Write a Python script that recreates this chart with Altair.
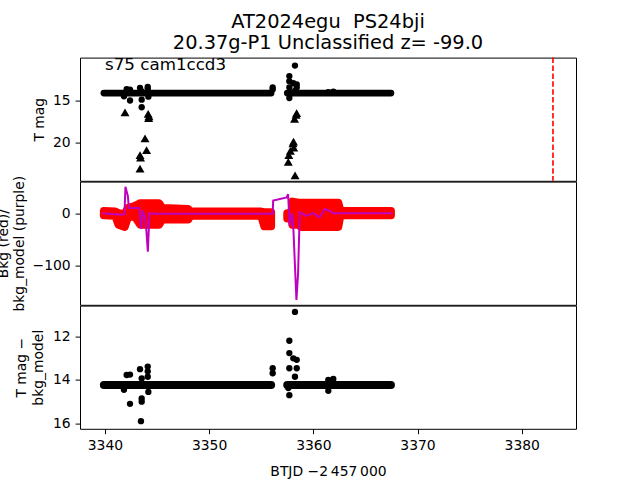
import altair as alt
import pandas as pd

# ---------------- data ----------------
# continuous stretches of detections (each stretch: first and last epoch)
seg_start = [3339.9, 3357.5]
seg_end = [3355.95, 3367.45]
top_seg_mag = [14.12, 14.12]
bot_seg_mag = [14.23, 14.23]

# scattered detections, top panel (T mag)
top_pt_t = [3341.83, 3342.09, 3342.41, 3342.41, 3343.37, 3343.5, 3343.53, 3343.53,
            3344.11, 3344.11, 3344.17, 3356.1, 3356.1, 3357.7, 3357.7, 3357.7, 3357.7,
            3358.08, 3358.24, 3358.24, 3358.41, 3358.41, 3361.44, 3361.92]
top_pt_mag = [14.5, 13.65, 13.7, 15.0, 13.5, 13.9, 14.9, 15.8,
              13.4, 13.6, 14.55, 13.45, 13.7, 12.1, 12.7, 13.45, 14.7,
              12.95, 10.85, 13.85, 13.1, 13.45, 14.0, 13.95]

# upper limits (triangles), top panel
lim_t = [3341.93, 3343.37, 3343.42, 3343.37, 3343.85, 3344.0, 3344.15, 3344.23, 3344.2,
         3357.6, 3357.65, 3357.8, 3358.05, 3358.1, 3358.12, 3358.2, 3358.35, 3358.4, 3358.25]
lim_mag = [16.4, 21.5, 21.8, 23.1, 19.5, 20.9, 16.6, 16.9, 17.1,
           22.3, 21.5, 21.0, 20.1, 19.9, 20.6, 17.2, 16.7, 16.5, 23.9]

# background flux (red): envelope of the points per orbit
bkg_t = [3339.9, 3341.0, 3341.3, 3341.9, 3342.2, 3342.6, 3343.0, 3343.4, 3344.0, 3345.2,
         3345.5, 3348.0, 3348.2, 3355.0, 3355.3, 3355.95,
         3357.5, 3357.9, 3358.0, 3358.6, 3358.8, 3362.4, 3362.6, 3367.45]
bkg_lo = [-4, -5, -22, -26, -8, -5, -10, -22, -22, -22,
          -12, -12, -5, -5, -25, -25,
          -10, -10, -22, -22, -26, -26, -4, -4]
bkg_hi = [4, 3, 0, -2, 10, 12, 15, 19, 19, 19,
          10, 8, 3, 3, 2, 2,
          0, 0, 22, 20, 20, 20, 4, 4]
bkg_orbit = ["1"] * 16 + ["2"] * 8

# background model (purple)
mod_t = [3339.76, 3341.68, 3341.88, 3341.97, 3342.2, 3342.3, 3343.3, 3343.48, 3343.63,
         3343.9, 3344.12, 3344.28, 3344.6, 3356.1, 3356.15, 3357.45, 3357.58, 3357.74,
         3357.96, 3358.06, 3358.38, 3358.54, 3358.7, 3359.35, 3359.98, 3360.6, 3361.1,
         3361.6, 3361.9, 3367.6]
mod_v = [0, -3, -2, 50, 33, 10, 10, -30, 5,
         -10, -73, 0, -1, -1, 24, 30, 36, -24,
         0, -17, -165, -114, 2, -5, 0, -8, 8,
         4, 0, 0]

# scattered points, bottom panel (T mag - bkg_model)
bot_pt_t = [3342.09, 3342.41, 3341.83, 3342.41, 3343.37, 3343.53, 3343.53, 3343.53, 3343.46,
            3344.11, 3344.11, 3344.11, 3344.17, 3356.1, 3356.1, 3357.7, 3357.7, 3357.7,
            3357.7, 3358.24, 3358.08, 3358.41, 3358.41, 3358.24, 3357.6, 3361.44, 3361.44,
            3361.92]
bot_pt_mag = [13.77, 13.75, 14.45, 15.1, 13.5, 13.93, 14.85, 15.0, 15.9,
              13.38, 13.6, 13.85, 14.55, 13.46, 13.69, 12.19, 12.76, 13.46,
              14.7, 10.86, 13.0, 13.07, 13.46, 13.85, 14.37, 14.0, 14.5,
              13.95]

discovery_t = [3383.0]
panel_label = ["s75 cam1ccd3"]

# ---------------- chart ----------------
FONT = "DejaVu Sans"
W, H = 496, 123.2
xs = alt.Scale(domain=[3337.61, 3385.21], nice=False, zero=False)
top_ys = alt.Scale(domain=[9.9, 24.55], nice=False, zero=False, reverse=True)
mid_ys = alt.Scale(domain=[-174, 60], nice=False, zero=False)
bot_ys = alt.Scale(domain=[10.57, 16.25], nice=False, zero=False, reverse=True)


def yaxis(values, title, tx):
    return alt.Axis(values=values, title=title, titleX=tx, titleY=H / 2,
                    titleAngle=270, titleAlign="center", titleBaseline="alphabetic",
                    titleLineHeight=16.7, format="d")


top_axis = yaxis([15, 20], "T mag", -36.7)
mid_axis = yaxis([0, -100], ["Bkg (red)/", "bkg_model (purple)"], -72.9)
bot_axis = yaxis([12, 14, 16], ["T mag \u2212", "bkg_model"], -54.5)

seg_top = pd.DataFrame({"t0": seg_start, "t1": seg_end, "mag": top_seg_mag})
seg_bot = pd.DataFrame({"t0": seg_start, "t1": seg_end, "mag": bot_seg_mag})
top_pts = pd.DataFrame({"t": top_pt_t, "mag": top_pt_mag})
lims = pd.DataFrame({"t": lim_t, "mag": lim_mag})
bkg = pd.DataFrame({"t": bkg_t, "lo": bkg_lo, "hi": bkg_hi, "orbit": bkg_orbit})
mod = pd.DataFrame({"t": mod_t, "v": mod_v})
bot_pts = pd.DataFrame({"t": bot_pt_t, "mag": bot_pt_mag})
disc = pd.DataFrame({"t": discovery_t})
lab = pd.DataFrame({"label": panel_label})

xnone = dict(scale=xs, axis=None)

top = alt.layer(
    alt.Chart(seg_top).mark_rule(color="black", strokeWidth=6.7, strokeCap="round").encode(
        x=alt.X("t0:Q", **xnone), x2="t1:Q",
        y=alt.Y("mag:Q", scale=top_ys, axis=top_axis)),
    alt.Chart(top_pts).mark_circle(color="black", size=40, opacity=1).encode(
        x=alt.X("t:Q", **xnone), y=alt.Y("mag:Q", scale=top_ys, axis=top_axis)),
    alt.Chart(lims).mark_point(shape="triangle-up", filled=True, color="black", size=80,
                               opacity=1).encode(
        x=alt.X("t:Q", **xnone), y=alt.Y("mag:Q", scale=top_ys, axis=top_axis)),
    alt.Chart(disc).mark_rule(color="red", strokeWidth=1.6, strokeDash=[5.5, 2.4]).encode(
        x=alt.X("t:Q", **xnone)),
    alt.Chart(lab).mark_text(align="left", baseline="alphabetic", fontSize=16.7,
                             font=FONT, color="black").encode(
        x=alt.value(25), y=alt.value(12.4), text="label:N"),
).properties(width=W, height=H)

mid = alt.layer(
    alt.Chart(bkg).mark_area(color="red", stroke="red", strokeWidth=8, strokeJoin="round",
                             opacity=1).encode(
        x=alt.X("t:Q", **xnone), y=alt.Y("lo:Q", scale=mid_ys, axis=mid_axis), y2="hi:Q",
        detail="orbit:N"),
    alt.Chart(mod).mark_line(color="#bf00bf", strokeWidth=2).encode(
        x=alt.X("t:Q", **xnone), y=alt.Y("v:Q", scale=mid_ys, axis=mid_axis)),
).properties(width=W, height=H)

xaxis = alt.Axis(values=[3340, 3350, 3360, 3370, 3380], format="d",
                 title="BTJD \u22122\u2009457\u2009000", titleY=46.3,
                 titleBaseline="alphabetic")

bot = alt.layer(
    alt.Chart(seg_bot).mark_rule(color="black", strokeWidth=8, strokeCap="round").encode(
        x=alt.X("t0:Q", scale=xs, axis=xaxis), x2="t1:Q",
        y=alt.Y("mag:Q", scale=bot_ys, axis=bot_axis)),
    alt.Chart(bot_pts).mark_circle(color="black", size=40, opacity=1).encode(
        x=alt.X("t:Q", scale=xs, axis=xaxis), y=alt.Y("mag:Q", scale=bot_ys, axis=bot_axis)),
).properties(width=W, height=H)

chart = alt.vconcat(top, mid, bot, spacing=0, bounds="flush").properties(
    title=alt.Title(["AT2024egu\u00a0 PS24bji", "20.37g-P1 Unclassified z= -99.0"],
                    fontSize=19.4, font=FONT, fontWeight="normal", anchor="middle",
                    frame="group", baseline="bottom", offset=5.2, dy=21, lineHeight=21,
                    color="black"),
    padding={"left": 80, "top": 57.6, "right": 64, "bottom": 422.4},
    autosize=alt.AutoSizeParams(type="none"),
    background="white",
).configure_view(stroke="black", strokeWidth=1).configure_axis(
    grid=False, domain=False, tickColor="black", tickSize=4.9, tickWidth=1,
    labelPadding=4.9, labelFont=FONT, labelFontSize=13.9, labelColor="black",
    titleFont=FONT, titleFontSize=13.9, titleFontWeight="normal", titleColor="black",
)

chart.save("out.html", embed_options={"renderer": "svg", "actions": False})
